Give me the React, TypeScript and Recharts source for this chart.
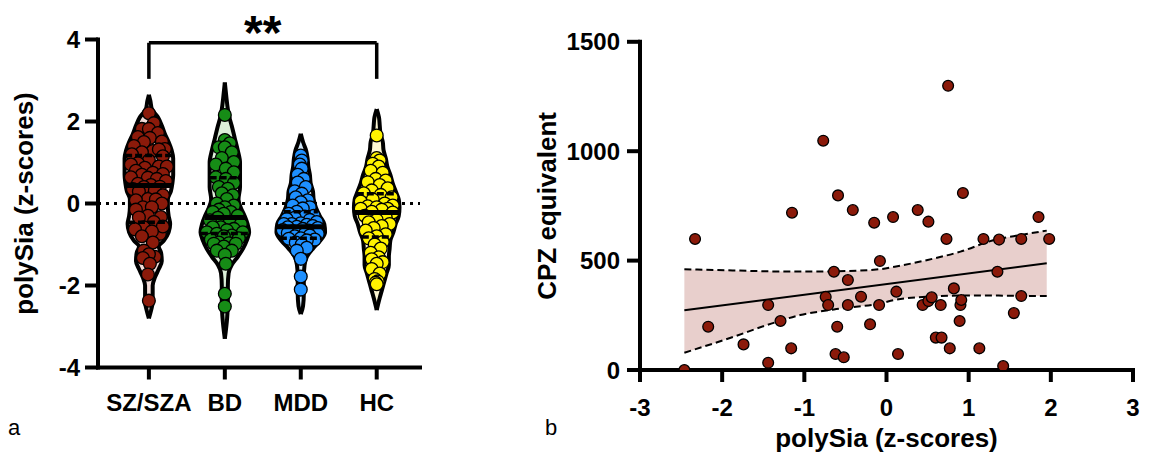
import React from 'react'
import { ComposedChart, Area, Line, Scatter, XAxis, YAxis, ReferenceLine } from 'recharts'

// ---- panel a: polySia z-scores per diagnosis group
const groups = ['SZ/SZA', 'BD', 'MDD', 'HC']
const groupPos = [1, 2, 3, 4]
const zTicks = [-4, -2, 0, 2, 4]

const szValues = [
  2.2, 1.96, 1.82, 1.82, 1.72, 1.62, 1.6, 1.51, 1.5, 1.4, 1.28, 1.33, 1.25, 1.2, 1.32, 1.15, 1.05, 0.98,
  0.9, 0.9, 0.95, 0.87, 0.8, 0.75, 0.72, 0.7, 0.64, 0.63, 0.6, 0.55, 0.48, 0.45, 0.41, 0.4, 0.35, 0.32,
  0.29, 0.2, 0.11, 0.08, 0.1, 0.0, -0.09, -0.09, -0.15, -0.33, -0.3, -0.34, -0.45, -0.58, -0.74, -0.63,
  -0.56, -0.68, -0.8, -0.95, -1.15, -1.3, -1.24, -1.33, -1.47, -1.73, -2.37,
]
const bdValues = [
  2.16, 1.55, 1.47, 1.37, 1.37, 1.25, 1.11, 1.01, 0.95, 0.85, 0.76, 0.64, 0.6, 0.5, 0.4, 0.36, 0.25, 0.2,
  0.11, 0.0, -0.05, -0.09, -0.15, -0.21, -0.21, -0.25, -0.3, -0.35, -0.41, -0.45, -0.5, -0.58, -0.58,
  -0.62, -0.65, -0.7, -0.7, -0.74, -0.78, -0.8, -0.85, -0.88, -0.95, -0.97, -0.98, -0.98, -1.05, -1.15,
  -1.15, -1.25, -1.47, -2.2, -2.51,
]
const mddValues = [
  1.17, 1.05, 0.95, 0.85, 0.7, 0.6, 0.51, 0.4, 0.3, 0.24, 0.15, 0.08, 0.03, -0.05, -0.09, -0.12, -0.2,
  -0.25, -0.3, -0.32, -0.35, -0.38, -0.4, -0.45, -0.48, -0.5, -0.5, -0.52, -0.55, -0.57, -0.58, -0.6,
  -0.62, -0.65, -0.66, -0.68, -0.7, -0.7, -0.72, -0.74, -0.74, -0.78, -0.8, -0.85, -0.86, -0.88, -0.9,
  -0.95, -1.0, -1.08, -1.15, -1.35, -1.78, -2.1,
]
const hcValues = [
  1.66, 1.11, 1.05, 0.97, 0.9, 0.8, 0.75, 0.6, 0.56, 0.52, 0.45, 0.37, 0.32, 0.25, 0.21, 0.15, 0.1, 0.05,
  0.0, -0.05, -0.07, -0.09, -0.13, -0.13, -0.15, -0.2, -0.22, -0.3, -0.34, -0.4, -0.46, -0.5, -0.55,
  -0.6, -0.66, -0.75, -0.8, -0.85, -0.94, -1.0, -1.1, -1.2, -1.31, -1.36, -1.43, -1.47, -1.6, -1.71,
  -1.84, -1.9, -1.93, -1.97,
]

// violin outlines: [z, half width in category units]
const szViolin = [
  [2.65, 0], [2.5, 0.02], [2.3, 0.04], [2.1, 0.12], [1.9, 0.17], [1.7, 0.21], [1.5, 0.26], [1.3, 0.3],
  [1.1, 0.32], [0.9, 0.32], [0.7, 0.32], [0.5, 0.31], [0.3, 0.29], [0.1, 0.25], [-0.1, 0.25], [-0.3, 0.26],
  [-0.5, 0.28], [-0.7, 0.26], [-0.9, 0.2], [-1.05, 0.13], [-1.2, 0.16], [-1.4, 0.17], [-1.6, 0.13],
  [-1.8, 0.08], [-2.0, 0.05], [-2.2, 0.05], [-2.4, 0.05], [-2.6, 0.03], [-2.8, 0],
]
const bdViolin = [
  [2.95, 0], [2.6, 0.02], [2.3, 0.04], [2.1, 0.06], [1.9, 0.09], [1.6, 0.13], [1.3, 0.17], [1.0, 0.2],
  [0.7, 0.2], [0.4, 0.2], [0.1, 0.18], [-0.1, 0.21], [-0.3, 0.26], [-0.5, 0.3], [-0.7, 0.32], [-0.9, 0.29],
  [-1.1, 0.24], [-1.3, 0.17], [-1.5, 0.09], [-1.7, 0.05], [-2.0, 0.04], [-2.4, 0.04], [-2.8, 0.03], [-3.3, 0],
]
const mddViolin = [
  [1.7, 0], [1.5, 0.03], [1.3, 0.07], [1.1, 0.09], [0.9, 0.1], [0.7, 0.12], [0.5, 0.13], [0.3, 0.16],
  [0.1, 0.17], [-0.1, 0.2], [-0.3, 0.25], [-0.5, 0.31], [-0.7, 0.32], [-0.9, 0.26], [-1.1, 0.16],
  [-1.3, 0.08], [-1.5, 0.05], [-1.8, 0.04], [-2.2, 0.04], [-2.5, 0.03], [-2.7, 0],
]
const hcViolin = [
  [2.3, 0], [2.1, 0.03], [1.9, 0.04], [1.7, 0.05], [1.5, 0.08], [1.3, 0.09], [1.1, 0.12], [0.9, 0.14],
  [0.7, 0.18], [0.5, 0.21], [0.3, 0.25], [0.1, 0.29], [-0.1, 0.3], [-0.3, 0.29], [-0.5, 0.25], [-0.7, 0.22],
  [-0.9, 0.18], [-1.1, 0.17], [-1.3, 0.16], [-1.5, 0.16], [-1.7, 0.13], [-1.9, 0.1], [-2.1, 0.07],
  [-2.3, 0.04], [-2.6, 0],
]

// [Q1, median, Q3]
const szQuart = [-0.46, 0.44, 1.17]
const bdQuart = [-0.73, -0.34, 0.63]
const mddQuart = [-0.85, -0.57, -0.2]
const hcQuart = [-0.82, -0.22, 0.24]

// SZ/SZA vs HC bracket
const bracketFrom = 1
const bracketTo = 4
const bracketTop = 3.92
const bracketFoot = 3.04

// ---- panel b: CPZ equivalent vs polySia
const cpzX = [
  -2.46, -2.33, -2.17, -1.74, -1.44, -1.44, -1.29, -1.16, -1.15, -0.77, -0.74, -0.71, -0.64, -0.59, -0.6,
  -0.47, -0.47, -0.62, -0.52, -0.41, -0.31, -0.2, -0.15, -0.08, -0.09, 0.08, 0.12, 0.14, 0.38, 0.51, 0.44,
  0.51, 0.55, 0.66, 0.6, 0.67, 0.75, 0.73, 0.82, 0.77, 0.93, 0.9, 0.91, 0.89, 1.13, 1.18, 1.35, 1.37, 1.42,
  1.55, 1.64, 1.64, 1.85, 1.98,
]
const cpzY = [
  0, 599, 198, 117, 297, 33, 224, 99, 719, 1048, 334, 297, 449, 798, 198, 411, 297, 73, 58, 731, 335, 209,
  673, 498, 297, 699, 358, 73, 731, 678, 297, 315, 332, 297, 148, 148, 1299, 599, 373, 99, 809, 297, 320,
  224, 99, 599, 449, 596, 18, 260, 599, 338, 699, 599,
]
const bandX = [-2.46, -1.86, -1.45, -1.05, -0.64, -0.07, 0.1, 0.5, 0.9, 1.31, 1.63, 1.95]
const bandLow = [79, 152, 206, 251, 277, 305, 320, 335, 340, 340, 339, 338]
const bandHigh = [460, 455, 451, 450, 451, 461, 472, 503, 541, 594, 617, 637]
const fitX = [-2.46, 1.95]
const fitY = [273, 488]
const cpzTicks = [0, 500, 1000, 1500]
const zTicksB = [-3, -2, -1, 0, 1, 2, 3]

const FONT = '"Liberation Sans", Arial, Helvetica, sans-serif'
const axisStroke = { stroke: '#000', strokeWidth: 4, strokeLinecap: 'square' as const }
const tickStroke = { stroke: '#000', strokeWidth: 4 }
const tickText = { fill: '#000', fontSize: 24, fontWeight: 700, fontFamily: FONT }
const titleText = { fill: '#000', fontSize: 26, fontWeight: 700, fontFamily: FONT }

const violins = [
  { values: szValues, outline: szViolin, quart: szQuart, dot: '#8b1a0a', fill: '#f2dcd8' },
  { values: bdValues, outline: bdViolin, quart: bdQuart, dot: '#168c16', fill: '#dcefd9' },
  { values: mddValues, outline: mddViolin, quart: mddQuart, dot: '#1e90ff', fill: '#d3e8f8' },
  { values: hcValues, outline: hcViolin, quart: hcQuart, dot: '#fff200', fill: '#fcf6d2' },
]

function halfWidthAt(profile: number[][], z: number) {
  for (let i = 0; i < profile.length - 1; i++) {
    const [z0, w0] = profile[i]
    const [z1, w1] = profile[i + 1]
    if (z <= z0 && z >= z1) return w0 + ((z0 - z) / (z0 - z1)) * (w1 - w0)
  }
  return 0
}

// simple swarm: spread the dots sideways inside the violin so they overlap as little as possible
const PX_PER_CAT = 76
const PX_PER_Z = 41
const DOT = 13
function swarm(values: number[], profile: number[][]) {
  const placed: [number, number][] = []
  return values.map((v) => {
    const py = v * PX_PER_Z
    const maxW = Math.max(0, halfWidthAt(profile, v) * PX_PER_CAT - 6)
    let best = 0
    let bestScore = -1
    for (let c = 0; c <= maxW; c += 1) {
      for (const s of c === 0 ? [0] : [c, -c]) {
        let d = DOT
        for (const [qx, qy] of placed) d = Math.min(d, Math.hypot(qx - s, qy - py))
        if (d > bestScore + 0.01) {
          bestScore = d
          best = s
        }
      }
    }
    placed.push([best, py])
    return best / PX_PER_CAT
  })
}

const dotShape = (fill: string, r: number) => (p: any) => (
  <circle cx={p.cx} cy={p.cy} r={r} fill={fill} stroke="#000" strokeWidth={1.3} />
)
const noDot = () => <g />

function ViolinPanel() {
  return (
    <ComposedChart
      width={440}
      height={455}
      layout="vertical"
      margin={{ top: 39.5, right: 20, bottom: 27.5, left: 0 }}
    >
      <XAxis
        type="number"
        dataKey="x"
        domain={[0.33, 4.57]}
        allowDataOverflow
        ticks={groupPos}
        interval={0}
        tickFormatter={(v: number) => groups[v - 1]}
        height={60}
        tickSize={12}
        tickMargin={14}
        axisLine={axisStroke}
        tickLine={tickStroke}
        tick={tickText}
      />
      <YAxis
        type="number"
        dataKey="y"
        reversed
        domain={[-4, 4]}
        ticks={zTicks}
        width={98}
        tickSize={13}
        tickMargin={5}
        axisLine={axisStroke}
        tickLine={tickStroke}
        tick={tickText}
        label={{ value: 'polySia (z-scores)', angle: -90, position: 'center', dx: -25, ...titleText }}
      />
      <ReferenceLine y={0} stroke="#000" strokeWidth={3} strokeDasharray="3 5" />
      {violins.map((g, i) => (
        <Area
          key={'v' + i}
          data={g.outline.map(([z, w]) => ({ y: z, r: [groupPos[i] - w, groupPos[i] + w] }))}
          dataKey="r"
          type="monotone"
          fill={g.fill}
          fillOpacity={1}
          stroke="#000"
          strokeWidth={4}
          isAnimationActive={false}
        />
      ))}
      {violins.map((g, i) => {
        const offs = swarm(g.values, g.outline)
        return (
          <Scatter
            key={'s' + i}
            data={g.values.map((v, k) => ({ x: groupPos[i] + offs[k], y: v }))}
            shape={dotShape(g.dot, 6.4)}
            isAnimationActive={false}
          />
        )
      })}
      {violins.map((g, i) =>
        g.quart.map((q, k) => {
          const w = halfWidthAt(g.outline, q)
          return (
            <Scatter
              key={'q' + i + '-' + k}
              data={[
                { x: groupPos[i] - w, y: q },
                { x: groupPos[i] + w, y: q },
              ]}
              shape={noDot}
              line={{
                stroke: '#000',
                strokeWidth: k === 1 ? 5 : 3.5,
                strokeDasharray: k === 1 ? undefined : '7 3',
              }}
              isAnimationActive={false}
            />
          )
        }),
      )}
      <ReferenceLine
        segment={[
          { x: bracketFrom, y: bracketTop },
          { x: bracketTo, y: bracketTop },
        ]}
        stroke="#000"
        strokeWidth={3.5}
        ifOverflow="visible"
        label={{ value: '**', position: 'top', offset: -6, fill: '#000', fontSize: 48, fontWeight: 700, fontFamily: FONT }}
      />
      <ReferenceLine
        segment={[
          { x: bracketFrom, y: bracketTop },
          { x: bracketFrom, y: bracketFoot },
        ]}
        stroke="#000"
        strokeWidth={3.5}
        ifOverflow="visible"
      />
      <ReferenceLine
        segment={[
          { x: bracketTo, y: bracketTop },
          { x: bracketTo, y: bracketFoot },
        ]}
        stroke="#000"
        strokeWidth={3.5}
        ifOverflow="visible"
      />
    </ComposedChart>
  )
}

function CorrelationPanel() {
  const bandData = bandX.map((x, i) => ({ x, band: [bandLow[i], bandHigh[i]], lo: bandLow[i], hi: bandHigh[i] }))
  const fitData = fitX.map((x, i) => ({ x, y: fitY[i] }))
  const points = cpzX.map((x, i) => ({ x, y: cpzY[i] }))
  return (
    <ComposedChart width={675} height={455} margin={{ top: 41.8, right: 22, bottom: 0, left: 0 }}>
      <XAxis
        type="number"
        dataKey="x"
        domain={[-3, 3]}
        allowDataOverflow
        ticks={zTicksB}
        interval={0}
        height={85}
        tickSize={12}
        tickMargin={17}
        axisLine={axisStroke}
        tickLine={tickStroke}
        tick={tickText}
        label={{ value: 'polySia (z-scores)', position: 'insideBottom', offset: 8, ...titleText }}
      />
      <YAxis
        type="number"
        dataKey="y"
        domain={[0, 1500]}
        allowDataOverflow
        ticks={cpzTicks}
        interval={0}
        width={160}
        tickSize={13}
        tickMargin={7}
        axisLine={axisStroke}
        tickLine={tickStroke}
        tick={tickText}
        label={{ value: 'CPZ equivalent', angle: -90, position: 'center', dx: -13, ...titleText }}
      />
      <Area
        data={bandData}
        dataKey="band"
        type="monotone"
        fill="#e8cfcc"
        fillOpacity={1}
        stroke="none"
        isAnimationActive={false}
      />
      <Line data={bandData} dataKey="hi" type="monotone" stroke="#000" strokeWidth={2} strokeDasharray="7 4" dot={false} isAnimationActive={false} />
      <Line data={bandData} dataKey="lo" type="monotone" stroke="#000" strokeWidth={2} strokeDasharray="7 4" dot={false} isAnimationActive={false} />
      <Line data={fitData} dataKey="y" stroke="#000" strokeWidth={2} dot={false} isAnimationActive={false} />
      <Scatter data={points} shape={dotShape('#8b1a0a', 5.4)} isAnimationActive={false} />
    </ComposedChart>
  )
}

export default function App() {
  return (
    <div
      style={{
        position: 'absolute',
        left: 0,
        top: 0,
        width: 1155,
        height: 455,
        overflow: 'hidden',
        background: '#fff',
        fontFamily: FONT,
      }}
    >
      <div style={{ position: 'absolute', left: 0, top: 0 }}>
        <ViolinPanel />
      </div>
      <div style={{ position: 'absolute', left: 480, top: 0 }}>
        <CorrelationPanel />
      </div>
      <div style={{ position: 'absolute', left: 8, top: 417, fontSize: 22, lineHeight: '22px' }}>a</div>
      <div style={{ position: 'absolute', left: 545, top: 417, fontSize: 22, lineHeight: '22px' }}>b</div>
    </div>
  )
}
